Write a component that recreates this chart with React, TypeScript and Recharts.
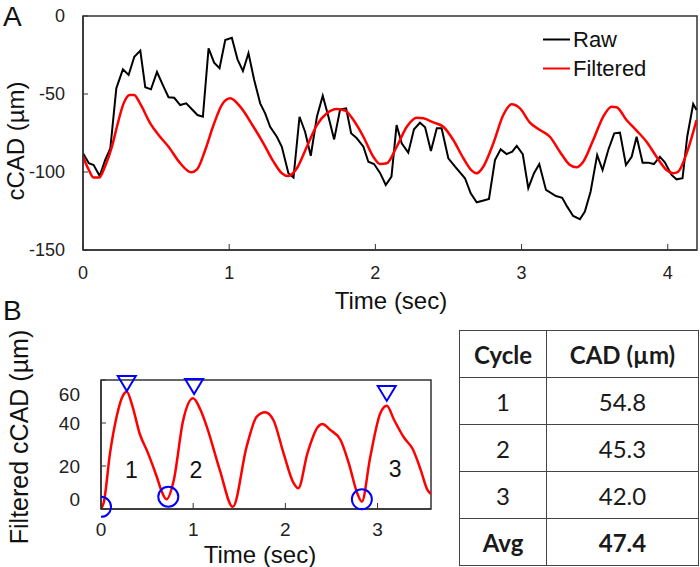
import { LineChart, ComposedChart, Line, Scatter, XAxis, YAxis, ReferenceArea, Legend, Label } from 'recharts'

// panel A: raw and filtered cCAD over time
const rawT = [0, 0.04, 0.073, 0.114, 0.152, 0.187, 0.228, 0.273, 0.312, 0.351, 0.392, 0.426, 0.465, 0.506, 0.551, 0.585, 0.624, 0.665, 0.706, 0.745, 0.783, 0.82, 0.859, 0.897, 0.934, 0.973, 1.018, 1.057, 1.094, 1.132, 1.171, 1.212, 1.246, 1.28, 1.326, 1.36, 1.405, 1.44, 1.481, 1.519, 1.558, 1.6, 1.64, 1.679, 1.718, 1.759, 1.8, 1.834, 1.873, 1.918, 1.952, 1.991, 2.032, 2.071, 2.11, 2.145, 2.18, 2.225, 2.264, 2.305, 2.34, 2.38, 2.42, 2.453, 2.499, 2.545, 2.613, 2.652, 2.693, 2.734, 2.777, 2.818, 2.857, 2.898, 2.936, 2.967, 3.008, 3.046, 3.085, 3.121, 3.167, 3.235, 3.278, 3.312, 3.353, 3.399, 3.433, 3.472, 3.517, 3.554, 3.593, 3.634, 3.673, 3.714, 3.753, 3.787, 3.828, 3.866, 3.905, 3.946, 3.98, 4.026, 4.06, 4.101, 4.133, 4.174, 4.197]
const rawV = [-88, -94.4, -95.5, -102.6, -92.3, -84.8, -46.3, -34.2, -37.8, -26.1, -22.2, -45.7, -47, -35.9, -45.3, -52.1, -52.4, -57.1, -56, -59.8, -63.5, -64.6, -20.7, -29.9, -33.5, -15.4, -13.9, -27.8, -35.3, -23.9, -41, -56, -62.4, -71, -77.4, -83.8, -100.8, -103.6, -64.6, -74.2, -89.6, -64.6, -51.1, -64.6, -79.1, -59.8, -59.2, -75.2, -78.4, -83.8, -93.4, -94.9, -100.6, -108.3, -103, -69.9, -81.6, -87.6, -72.6, -68.4, -71.4, -86.5, -72, -72, -91.2, -96.6, -104, -113.7, -119.4, -118.4, -117.3, -92.3, -85.5, -88.5, -87, -83.3, -88.5, -110.4, -100.8, -94.9, -111.5, -115.4, -116.5, -122.2, -128.2, -130.3, -125.4, -112.6, -89.1, -98.7, -85.9, -75.2, -74.8, -95.5, -90.2, -77.4, -94, -94, -94.9, -90.2, -93.8, -101.9, -104.7, -104, -77.4, -56.4, -60.3]

const filtT = [0, 0.04, 0.073, 0.11, 0.15, 0.198, 0.232, 0.278, 0.319, 0.35, 0.39, 0.46, 0.517, 0.585, 0.665, 0.74, 0.78, 0.836, 0.893, 0.95, 1.007, 1.075, 1.166, 1.234, 1.303, 1.36, 1.405, 1.463, 1.531, 1.6, 1.668, 1.736, 1.793, 1.85, 1.918, 1.986, 2.032, 2.078, 2.146, 2.215, 2.283, 2.328, 2.397, 2.465, 2.533, 2.602, 2.659, 2.693, 2.738, 2.807, 2.875, 2.932, 2.989, 3.057, 3.126, 3.194, 3.262, 3.331, 3.376, 3.422, 3.49, 3.558, 3.616, 3.65, 3.718, 3.787, 3.855, 3.923, 3.992, 4.037, 4.071, 4.129, 4.197]
const filtV = [-90.2, -98.7, -103.6, -103.6, -96.6, -83.8, -71, -56, -50.6, -50.6, -56, -68.8, -76.3, -83.8, -94.4, -100.2, -98.3, -85.9, -69.9, -57, -52.8, -58.1, -71, -81.6, -93.4, -100.8, -102.6, -97.6, -83.8, -69.9, -62.4, -59.6, -60.7, -66.7, -77.4, -90.2, -94.9, -94.4, -83.8, -71, -65.2, -65.6, -68.2, -71, -79.5, -91.2, -99.1, -100.8, -96.6, -81.6, -63.5, -56.6, -59.2, -68.3, -73.1, -77.4, -87, -95.5, -97, -93.4, -79.5, -64.6, -58.1, -58.5, -66.7, -73.5, -80.6, -90.2, -98.7, -100.8, -99.8, -88, -66.7]

const aXTicks = [0, 1, 2, 3, 4]
const aYTicks = [-150, -100, -50, 0]
const legendOrder = ['Raw', 'Filtered']

// panel B: filtered cCAD, with detected troughs/peaks
const bT = [0, 0.03, 0.098, 0.17, 0.225, 0.28, 0.34, 0.42, 0.51, 0.605, 0.66, 0.71, 0.79, 0.89, 1.0, 1.08, 1.15, 1.29, 1.43, 1.58, 1.69, 1.78, 1.87, 1.98, 2.09, 2.14, 2.24, 2.35, 2.4, 2.49, 2.6, 2.69, 2.78, 2.83, 2.92, 3.03, 3.1, 3.18, 3.29, 3.38, 3.47, 3.54, 3.58]
const bV = [0, 3, 26, 43, 51.5, 54.5, 48, 35, 26, 15, 8, 4.5, 13.5, 41, 51.5, 46, 38, 18, 1, 29, 43, 45, 41.4, 26, 12, 9.6, 26, 38, 39.5, 36.7, 32, 21, 7.3, 3.4, 24, 44.5, 48, 41.4, 33, 28, 18, 9, 7]

const troughT = [0, 0.73, 2.83]
const troughV = [1, 5.7, 4.5]
const peakT = [0.28, 1.01, 3.1]
const peakV = [58.6, 57.2, 54]
const cycleT = [0.33, 1.03, 3.19]
const cycleV = [18, 18, 18.5]
const cycleNames = ['1', '2', '3']

const bXTicks = [0, 1, 2, 3]
const bYTicks = [0, 20, 40, 60]

// table
const tableCycles = ['1', '2', '3']
const tableCAD = ['54.8', '45.3', '42.0']
const avgCAD = '47.4'

const rawData = rawT.map((t, i) => ({ t, v: rawV[i] }))
const filtData = filtT.map((t, i) => ({ t, v: filtV[i] }))
const bData = bT.map((t, i) => ({ t, v: bV[i] }))
const troughData = troughT.map((t, i) => ({ t, v: troughV[i] }))
const peakData = peakT.map((t, i) => ({ t, v: peakV[i] }))
const cycleData = cycleT.map((t, i) => ({ t, v: cycleV[i], name: cycleNames[i] }))

const FONT = '"Liberation Sans", Arial, sans-serif'
const AX = '#333'

function LegendBox({ payload }: any) {
  const items = [...(payload || [])].sort((a: any, b: any) => legendOrder.indexOf(a.value) - legendOrder.indexOf(b.value))
  return (
    <div style={{ fontFamily: FONT, fontSize: 22, color: '#111' }}>
      {items.map((p: any) => (
        <div key={p.value} style={{ display: 'flex', alignItems: 'center', height: 29 }}>
          <svg width={30} height={29}>
            <line x1={0} x2={27} y1={14.5} y2={14.5} stroke={p.color} strokeWidth={2} />
          </svg>
          <span>{p.value}</span>
        </div>
      ))}
    </div>
  )
}

function BYTick({ x, y, payload }: any) {
  const shift = payload.value === 60 ? 14 : payload.value === 0 ? -10 : 0
  return (
    <text x={x} y={y + shift} textAnchor="end" dominantBaseline="central" fontSize={19} fill="#222" fontFamily={FONT}>
      {payload.value}
    </text>
  )
}

function DownTriangle({ cx, cy }: any) {
  const pts = `${cx - 9},${cy - 7} ${cx + 9},${cy - 7} ${cx},${cy + 8}`
  return <polygon points={pts} fill="none" stroke="#0000ff" strokeWidth={2} />
}

function Ring({ cx, cy }: any) {
  return <circle cx={cx} cy={cy} r={10} fill="none" stroke="#0000ff" strokeWidth={2} />
}

function CycleText({ cx, cy, payload }: any) {
  return (
    <text x={cx} y={cy} textAnchor="middle" dominantBaseline="central" fontSize={23} fill="#111" fontFamily={FONT}>
      {payload.name}
    </text>
  )
}

const cell: React.CSSProperties = {
  border: '1.5px solid #444',
  textAlign: 'center',
  height: 46,
  padding: 0,
}

export default function App() {
  return (
    <div style={{ position: 'absolute', left: 0, top: 0, width: 700, height: 567, background: '#fff', fontFamily: FONT }}>
      <svg width={700} height={567} style={{ position: 'absolute', left: 0, top: 0 }}>
        <text x={3} y={26} fontSize={28} fill="#111" fontFamily={FONT}>A</text>
        <text x={3} y={320} fontSize={28} fill="#111" fontFamily={FONT}>B</text>
      </svg>

      <div style={{ position: 'absolute', left: 0, top: 0 }}>
        <LineChart width={700} height={315} margin={{ top: 16, right: 3, bottom: 0, left: 0 }}>
          <XAxis
            dataKey="t"
            type="number"
            domain={[0, 4.2]}
            ticks={aXTicks}
            allowDataOverflow
            height={65}
            tickSize={-6}
            tickMargin={22}
            axisLine={{ stroke: AX, strokeWidth: 1.5 }}
            tickLine={{ stroke: AX }}
            tick={{ fontSize: 18, fill: '#222', fontFamily: FONT }}
          >
            <Label
              content={() => (
                <text x={391} y={300} textAnchor="middle" dominantBaseline="central" fontSize={24} fill="#111" fontFamily={FONT}>
                  Time (sec)
                </text>
              )}
            />
          </XAxis>
          <YAxis
            type="number"
            domain={[-150, 0]}
            ticks={aYTicks}
            width={83}
            tickSize={-5}
            tickMargin={23}
            axisLine={{ stroke: AX, strokeWidth: 1.5 }}
            tickLine={{ stroke: AX }}
            tick={{ fontSize: 18, fill: '#222', fontFamily: FONT }}
          >
            <Label
              content={() => (
                <text transform="translate(15,141) rotate(-90)" textAnchor="middle" dominantBaseline="central" fontSize={24} fill="#111" fontFamily={FONT}>
                  cCAD (µm)
                </text>
              )}
            />
          </YAxis>
          <ReferenceArea x1={0} x2={4.2} y1={-150} y2={0} fill="none" stroke={AX} strokeWidth={1.5} />
          <Line data={rawData} dataKey="v" name="Raw" type="linear" stroke="#000" strokeWidth={2} dot={false} isAnimationActive={false} />
          <Line data={filtData} dataKey="v" name="Filtered" type="monotone" stroke="#ff0000" strokeWidth={2.5} dot={false} isAnimationActive={false} />
          <Legend
            layout="vertical"
            align="center"
            verticalAlign="middle"
            content={LegendBox}
            wrapperStyle={{ left: 543, top: 25, width: 'auto', height: 'auto' }}
          />
        </LineChart>
      </div>

      <div style={{ position: 'absolute', left: 0, top: 300 }}>
        <ComposedChart width={440} height={267} margin={{ top: 80, right: 9, bottom: 0, left: 0 }}>
          <XAxis
            dataKey="t"
            type="number"
            domain={[0, 3.58]}
            ticks={bXTicks}
            allowDataOverflow
            height={58}
            tickSize={-6}
            tickMargin={20}
            axisLine={{ stroke: AX, strokeWidth: 1.5 }}
            tickLine={{ stroke: AX }}
            tick={{ fontSize: 19, fill: '#222', fontFamily: FONT }}
          >
            <Label
              content={() => (
                <text x={260} y={254} textAnchor="middle" dominantBaseline="central" fontSize={24} fill="#111" fontFamily={FONT}>
                  Time (sec)
                </text>
              )}
            />
          </XAxis>
          <YAxis
            type="number"
            domain={[0, 60]}
            ticks={bYTicks}
            width={101}
            tickSize={-5}
            tickMargin={26}
            axisLine={{ stroke: AX, strokeWidth: 1.5 }}
            tickLine={{ stroke: AX }}
            tick={BYTick}
          >
            <Label
              content={() => (
                <text transform="translate(19,137) rotate(-90)" textAnchor="middle" dominantBaseline="central" fontSize={25} fill="#111" fontFamily={FONT}>
                  Filtered cCAD (µm)
                </text>
              )}
            />
          </YAxis>
          <ReferenceArea x1={0} x2={3.58} y1={0} y2={60} fill="none" stroke={AX} strokeWidth={1.5} />
          <Line data={bData} dataKey="v" type="monotone" stroke="#ff0000" strokeWidth={2.5} dot={false} isAnimationActive={false} />
          <Scatter data={troughData} dataKey="v" shape={Ring} isAnimationActive={false} />
          <Scatter data={peakData} dataKey="v" shape={DownTriangle} isAnimationActive={false} />
          <Scatter data={cycleData} dataKey="v" shape={CycleText} isAnimationActive={false} />
        </ComposedChart>
      </div>

      <table
        style={{
          position: 'absolute',
          left: 459,
          top: 330,
          width: 240,
          borderCollapse: 'collapse',
          fontFamily: 'Lato, "Noto Sans", sans-serif',
          fontSize: 24,
          color: '#1a1a1a',
        }}
      >
        <tbody>
          <tr>
            <td style={{ ...cell, width: 86, fontWeight: 700 }}>Cycle</td>
            <td style={{ ...cell, fontWeight: 700 }}>CAD (µm)</td>
          </tr>
          {tableCycles.map((c, i) => (
            <tr key={c}>
              <td style={cell}>{c}</td>
              <td style={cell}>{tableCAD[i]}</td>
            </tr>
          ))}
          <tr>
            <td style={{ ...cell, fontWeight: 700 }}>Avg</td>
            <td style={{ ...cell, fontWeight: 700 }}>{avgCAD}</td>
          </tr>
        </tbody>
      </table>
    </div>
  )
}
